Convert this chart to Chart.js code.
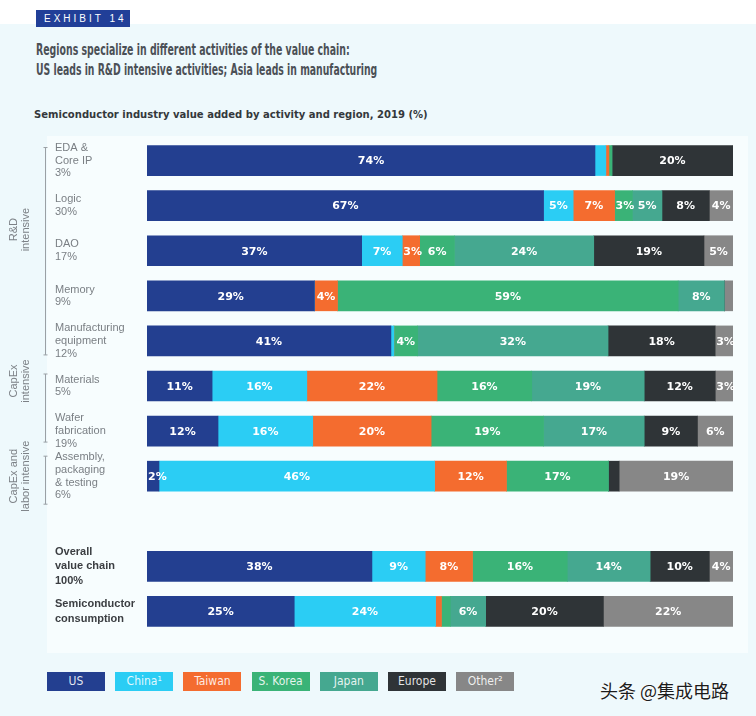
<!DOCTYPE html>
<html>
<head>
<meta charset="utf-8">
<script src="https://cdn.jsdelivr.net/npm/chart.js@4.4.1/dist/chart.umd.min.js"></script>
<style>
  body { margin: 0; width: 756px; height: 716px; overflow: hidden; position: relative; background: #eef9fc; font-family: "Liberation Sans", Arial, sans-serif; }
  .band { position: absolute; left: 0; top: 0; width: 756px; height: 24px; background: #ffffff; }
  .exhibit { position: absolute; left: 36px; top: 10px; width: 94px; height: 17px; background: #213f98; color: #fff; font-size: 10px; line-height: 17px; letter-spacing: 3px; text-indent: 8px; white-space: nowrap; overflow: hidden; }
  .fit { position: absolute; white-space: nowrap; transform-origin: 0 50%; }
  .title { left: 36px; font-family: "Liberation Sans Narrow", "DejaVu Sans Condensed", sans-serif; font-weight: bold; font-size: 16px; color: #4b5056; }
  .sub { left: 34px; top: 108px; font-family: "DejaVu Sans", sans-serif; font-weight: bold; font-size: 11px; color: #34383b; }
  .panel { position: absolute; left: 47px; top: 136px; width: 701px; height: 517px; background: #f7fdfe; }
  #chart { position: absolute; left: 0; top: 138px; }
  .legend { position: absolute; top: 672px; left: 47px; }
  .legend div { position: absolute; top: 0; width: 58px; height: 19px; line-height: 19px; text-align: center; font-family: "Liberation Sans Narrow", "DejaVu Sans Condensed", sans-serif; font-size: 12px; color: rgba(255,255,255,0.88); }
  .mark { position: absolute; left: 600px; top: 677px; font-family: "Noto Sans CJK SC", sans-serif; font-size: 18px; color: #1c1c1c; text-shadow: 0 0 2px #fff, 0 0 2px #fff; }
</style>
</head>
<body>
<div class="band"></div>
<div class="exhibit">EXHIBIT 14</div>
<div class="fit title" style="top:40px" data-w="314">Regions specialize in different activities of the value chain:</div>
<div class="fit title" style="top:60px" data-w="341">US leads in R&amp;D intensive activities; Asia leads in manufacturing</div>
<div class="fit sub" data-w="394">Semiconductor industry value added by activity and region, 2019 (%)</div>
<div class="panel"></div>
<canvas id="chart" width="756" height="496"></canvas>
<div class="legend" id="legend"></div>
<div class="mark">头条 @集成电路</div>
<script>
const categories = [
    ['EDA &', 'Core IP', '3%'],
    ['Logic', '30%'],
    ['DAO', '17%'],
    ['Memory', '9%'],
    ['Manufacturing', 'equipment', '12%'],
    ['Materials', '5%'],
    ['Wafer', 'fabrication', '19%'],
    ['Assembly,', 'packaging', '& testing', '6%'],
    '',
    ['Overall', 'value chain', '100%'],
    ['Semiconductor', 'consumption']
];
const regions = ['US', 'China\u00b9', 'Taiwan', 'S. Korea', 'Japan', 'Europe', 'Other\u00b2'];
const colors = ['#233f90', '#2bcdf4', '#f46c2f', '#3ab377', '#45a890', '#2f3437', '#878787'];

const us     = [74, 67, 37, 29, 41, 11, 12,  2, null, 38, 25];
const china  = [1.8, 5,  7,  0, 0.5, 16, 16, 46, null,  9, 24];
const taiwan = [0.5, 7,  3,  4,  0, 22, 20, 12, null,  8,  1];
const korea  = [0.5, 3,  6, 59,  4, 16, 19, 17, null, 16, 1.5];
const japan  = [0,   5, 24,  8, 32, 19, 17,  0, null, 14,  6];
const europe = [20,  8, 19,  0, 18, 12,  9, 1.8, null, 10, 20];
const other  = [0,   4,  5, 1.5, 3,  3,  6, 19, null,  4, 22];

const series = [us, china, taiwan, korea, japan, europe, other];

// each row is drawn as share of its own total so every bar spans the full width
const rowTotals = categories.map((c, i) => series.reduce((s, arr) => s + (arr[i] || 0), 0));

document.querySelectorAll('.fit').forEach(el => {
    el.style.transform = `scaleX(${el.dataset.w / el.scrollWidth})`;
});

document.getElementById('legend').innerHTML = regions.map((r, i) =>
    `<div style="left:${i * 68.2}px;background:${colors[i]}">${r}</div>`).join('');

const groups = [
    { lines: ['R&D', 'intensive'], from: 0, to: 4, top: -13, bottom: 14, textRow: 1, textOff: 24 },
    { lines: ['CapEx', 'intensive'], from: 5, to: 6, top: -12, bottom: 11, textRow: 5, textOff: -5 },
    { lines: ['CapEx and', 'labor intensive'], from: 7, to: 7, top: -20, bottom: 28, textRow: 7, textOff: 0 }
];

const sidePlugin = {
    id: 'side',
    afterDraw(chart) {
        const ctx = chart.ctx;
        const y = chart.scales.y;
        ctx.save();
        ctx.strokeStyle = '#9aa0a5';
        ctx.lineWidth = 1;
        ctx.fillStyle = '#7c8186';
        ctx.font = '11px "Liberation Sans", Arial, sans-serif';
        groups.forEach(g => {
            const top = y.getPixelForValue(g.from) + g.top;
            const bottom = y.getPixelForValue(g.to) + g.bottom;
            ctx.beginPath();
            ctx.moveTo(45.5, top); ctx.lineTo(45.5, bottom);
            ctx.moveTo(43.5, top); ctx.lineTo(47.5, top);
            ctx.moveTo(43.5, bottom); ctx.lineTo(47.5, bottom);
            ctx.stroke();
            const cy = y.getPixelForValue(g.textRow) + g.textOff;
            ctx.save();
            ctx.translate(19.5, cy);
            ctx.rotate(-Math.PI / 2);
            ctx.textAlign = 'center';
            ctx.textBaseline = 'middle';
            ctx.fillText(g.lines[0], 0, -6);
            ctx.fillText(g.lines[1], 0, 6);
            ctx.restore();
        });
        ctx.restore();
    }
};

const valuePlugin = {
    id: 'values',
    afterDatasetsDraw(chart) {
        const ctx = chart.ctx;
        ctx.save();
        ctx.fillStyle = '#ffffff';
        ctx.font = 'bold 11px "DejaVu Sans", sans-serif';
        ctx.textAlign = 'center';
        ctx.textBaseline = 'middle';
        chart.data.datasets.forEach((ds, di) => {
            chart.getDatasetMeta(di).data.forEach((bar, i) => {
                const v = series[di][i];
                if (v == null || v < 2) return;
                const text = Math.round(v) + '%';
                const half = ctx.measureText(text).width / 2;
                const p = bar.getCenterPoint();
                const left = Math.min(bar.x, bar.base);
                ctx.fillText(text, Math.max(p.x, left + half + 1), p.y + 1);
            });
        });
        ctx.restore();
    }
};

new Chart(document.getElementById('chart'), {
    type: 'bar',
    data: {
        labels: categories,
        datasets: series.map((arr, di) => ({
            label: regions[di],
            data: arr.map((v, i) => v == null ? null : v / rowTotals[i] * 100),
            backgroundColor: colors[di],
            borderWidth: 0,
            barThickness: 30
        }))
    },
    options: {
        indexAxis: 'y',
        responsive: false,
        animation: false,
        layout: { padding: { left: 55, right: 23, top: 0, bottom: 0 } },
        plugins: { legend: { display: false }, tooltip: { enabled: false } },
        scales: {
            x: { stacked: true, min: 0, max: 100, display: false },
            y: {
                stacked: true,
                grid: { display: false },
                border: { display: false },
                afterFit: s => { s.width = 92; s.paddingTop = 0; s.paddingBottom = 0; },
                ticks: {
                    autoSkip: false,
                    crossAlign: 'far',
                    padding: 0,
                    color: ctx => ctx.index >= 9 ? '#3b3e42' : '#7a7f84',
                    font: ctx => ctx.index >= 9
                        ? { family: '"Liberation Sans", Arial, sans-serif', size: 11, weight: 'bold', lineHeight: 1.3 }
                        : { family: '"Liberation Sans", Arial, sans-serif', size: 11, lineHeight: 1.15 }
                }
            }
        }
    },
    plugins: [sidePlugin, valuePlugin]
});
</script>
</body>
</html>
